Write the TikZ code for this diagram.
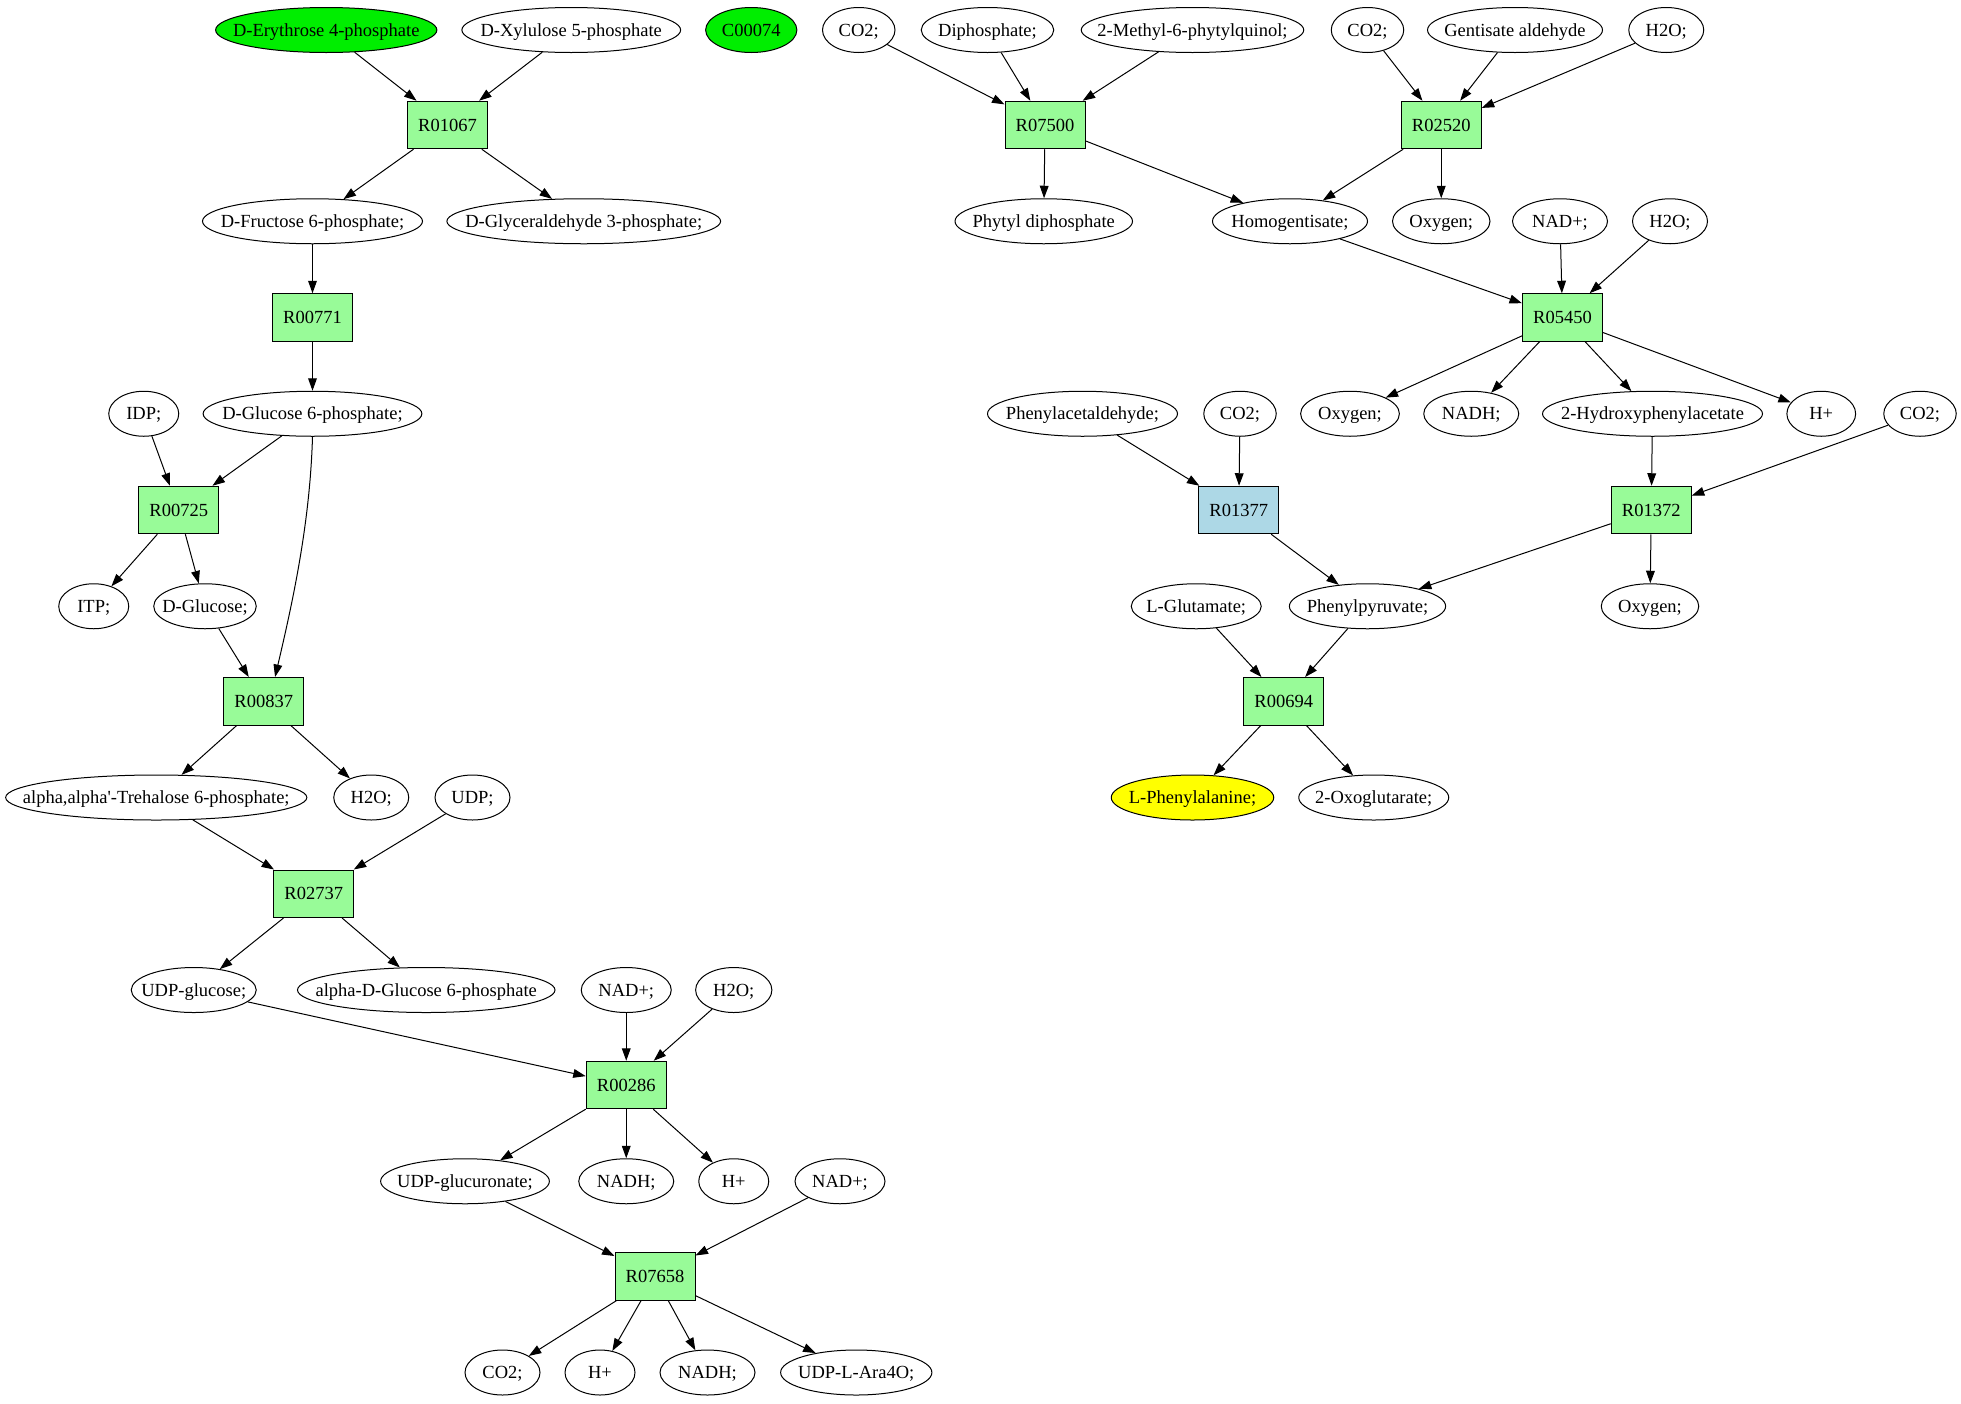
\documentclass[tikz,border=0pt]{standalone}
\usepackage{fontspec}
\setmainfont{Liberation Serif}
\usetikzlibrary{shapes.geometric,arrows.meta}
\definecolor{palegreenc}{HTML}{98FB98}
\definecolor{lightbluec}{HTML}{ADD8E6}
\definecolor{greenc}{HTML}{00EE00}
\definecolor{yellowc}{HTML}{FFFF00}
\newcommand{\mtxt}[1]{\makebox[0pt]{\raisebox{-4.8pt}[0pt][0pt]{#1}}}
\begin{document}
\begin{tikzpicture}[x=1pt,y=1pt,
  met/.style={ellipse, draw, line width=0.8pt, minimum height=36pt, inner sep=0pt, minimum width=#1},
  met/.default=60pt,
  rxn/.style={rectangle, draw, line width=0.8pt, fill=palegreenc, minimum width=64pt, minimum height=38pt, inner sep=0pt},
  arr/.style={-{Triangle[length=10pt,width=7pt]}, line width=0.8pt},
  every node/.style={font=\fontsize{14.8}{16}\selectfont}
]
\useasboundingbox (0,0) rectangle (1568.8,-1122.4);
% ---------- left part ----------
\node[met=177pt, fill=greenc] (ery) at (261,-24) {\mtxt{D-Erythrose 4-phosphate}};
\node[met=175pt] (xyl) at (457,-24) {\mtxt{D-Xylulose 5-phosphate}};
\node[met=73pt, fill=greenc] (c74) at (601,-24) {\mtxt{C00074}};
\node[rxn] (r01067) at (358,-100) {R01067};
\node[met=176pt] (fru) at (250,-177) {\mtxt{D-Fructose 6-phosphate;}};
\node[met=219pt] (gly) at (467,-177) {\mtxt{D-Glyceraldehyde 3-phosphate;}};
\node[rxn] (r00771) at (250,-254) {R00771};
\node[met=175pt] (g6p) at (250,-331) {\mtxt{D-Glucose 6-phosphate;}};
\node[met=56pt] (idp) at (115,-331) {\mtxt{IDP;}};
\node[rxn] (r00725) at (143,-408) {R00725};
\node[met=56pt] (itp) at (75,-485) {\mtxt{ITP;}};
\node[met=82pt] (glc) at (164,-485) {\mtxt{D-Glucose;}};
\node[rxn] (r00837) at (211,-561) {R00837};
\node[met=241pt] (tre) at (125,-638) {\mtxt{alpha,alpha\textquotesingle-Trehalose 6-phosphate;}};
\node[met=60pt] (h2oa) at (297,-638) {\mtxt{H2O;}};
\node[met=60pt] (udp) at (378,-638) {\mtxt{UDP;}};
\node[rxn] (r02737) at (251,-715) {R02737};
\node[met=100pt] (udpg) at (155,-792) {\mtxt{UDP-glucose;}};
\node[met=206pt] (ag6p) at (341,-792) {\mtxt{alpha-D-Glucose 6-phosphate}};
\node[met=72pt] (nada) at (501,-792) {\mtxt{NAD+;}};
\node[met=61pt] (h2ob) at (587,-792) {\mtxt{H2O;}};
\node[rxn] (r00286) at (501,-868) {R00286};
\node[met=135pt] (udpgn) at (372,-945) {\mtxt{UDP-glucuronate;}};
\node[met=76pt] (nadha) at (501,-945) {\mtxt{NADH;}};
\node[met=56pt] (ha) at (587,-945) {\mtxt{H+}};
\node[met=72pt] (nadb) at (672,-945) {\mtxt{NAD+;}};
\node[rxn] (r07658) at (524,-1021) {R07658};
\node[met=60pt] (co2a) at (402,-1098) {\mtxt{CO2;}};
\node[met=56pt] (hb) at (480,-1098) {\mtxt{H+}};
\node[met=76pt] (nadhb) at (566,-1098) {\mtxt{NADH;}};
\node[met=121pt] (ara) at (685,-1098) {\mtxt{UDP-L-Ara4O;}};
% ---------- right part ----------
\node[met=58pt] (co2b) at (687,-24) {\mtxt{CO2;}};
\node[met=106pt] (dip) at (790,-24) {\mtxt{Diphosphate;}};
\node[met=178pt] (mpq) at (954,-24) {\mtxt{2-Methyl-6-phytylquinol;}};
\node[met=58pt] (co2c) at (1094,-24) {\mtxt{CO2;}};
\node[met=140pt] (gen) at (1212,-24) {\mtxt{Gentisate aldehyde}};
\node[met=60pt] (h2oc) at (1333,-24) {\mtxt{H2O;}};
\node[rxn] (r07500) at (836,-100) {R07500};
\node[rxn] (r02520) at (1153,-100) {R02520};
\node[met=142pt] (phy) at (835,-177) {\mtxt{Phytyl diphosphate}};
\node[met=124pt] (hom) at (1032,-177) {\mtxt{Homogentisate;}};
\node[met=78pt] (oxya) at (1153,-177) {\mtxt{Oxygen;}};
\node[met=76pt] (nadc) at (1248,-177) {\mtxt{NAD+;}};
\node[met=60pt] (h2od) at (1336,-177) {\mtxt{H2O;}};
\node[rxn] (r05450) at (1250,-254) {R05450};
\node[met=152pt] (pacet) at (866,-331) {\mtxt{Phenylacetaldehyde;}};
\node[met=58pt] (co2d) at (992,-331) {\mtxt{CO2;}};
\node[met=79pt] (oxyb) at (1080,-331) {\mtxt{Oxygen;}};
\node[met=76pt] (nadhc) at (1177,-331) {\mtxt{NADH;}};
\node[met=176pt] (hpa) at (1322,-331) {\mtxt{2-Hydroxyphenylacetate}};
\node[met=55pt] (hc) at (1457,-331) {\mtxt{H+}};
\node[met=58pt] (co2e) at (1536,-331) {\mtxt{CO2;}};
\node[rxn, fill=lightbluec] (r01377) at (991,-408) {R01377};
\node[rxn] (r01372) at (1321,-408) {R01372};
\node[met=104pt] (glu) at (957,-485) {\mtxt{L-Glutamate;}};
\node[met=125pt] (ppy) at (1094,-485) {\mtxt{Phenylpyruvate;}};
\node[met=78pt] (oxyc) at (1320,-485) {\mtxt{Oxygen;}};
\node[rxn] (r00694) at (1027,-561) {R00694};
\node[met=130pt, fill=yellowc] (phe) at (954,-638) {\mtxt{L-Phenylalanine;}};
\node[met=120pt] (oxo) at (1099,-638) {\mtxt{2-Oxoglutarate;}};
% ---------- edges left ----------
\draw[arr] (ery) -- (r01067);
\draw[arr] (xyl) -- (r01067);
\draw[arr] (r01067) -- (fru);
\draw[arr] (r01067) -- (gly);
\draw[arr] (fru) -- (r00771);
\draw[arr] (r00771) -- (g6p);
\draw[arr] (idp) -- (r00725);
\draw[arr] (g6p) -- (r00725);
\draw[arr] (g6p.south) .. controls (248,-419) and (234,-482) .. (r00837.65);
\draw[arr] (r00725) -- (itp);
\draw[arr] (r00725) -- (glc);
\draw[arr] (glc) -- (r00837);
\draw[arr] (r00837) -- (tre);
\draw[arr] (r00837) -- (h2oa);
\draw[arr] (tre) -- (r02737);
\draw[arr] (udp) -- (r02737);
\draw[arr] (r02737) -- (udpg);
\draw[arr] (r02737) -- (ag6p);
\draw[arr] (udpg) -- (r00286);
\draw[arr] (nada) -- (r00286);
\draw[arr] (h2ob) -- (r00286);
\draw[arr] (r00286) -- (udpgn);
\draw[arr] (r00286) -- (nadha);
\draw[arr] (r00286) -- (ha);
\draw[arr] (udpgn) -- (r07658);
\draw[arr] (nadb) -- (r07658);
\draw[arr] (r07658) -- (co2a);
\draw[arr] (r07658) -- (hb);
\draw[arr] (r07658) -- (nadhb);
\draw[arr] (r07658) -- (ara);
% ---------- edges right ----------
\draw[arr] (co2b) -- (r07500);
\draw[arr] (dip) -- (r07500);
\draw[arr] (mpq) -- (r07500);
\draw[arr] (r07500) -- (phy);
\draw[arr] (r07500) -- (hom);
\draw[arr] (co2c) -- (r02520);
\draw[arr] (gen) -- (r02520);
\draw[arr] (h2oc) -- (r02520);
\draw[arr] (r02520) -- (hom);
\draw[arr] (r02520) -- (oxya);
\draw[arr] (hom) -- (r05450);
\draw[arr] (nadc) -- (r05450);
\draw[arr] (h2od) -- (r05450);
\draw[arr] (r05450) -- (oxyb);
\draw[arr] (r05450) -- (nadhc);
\draw[arr] (r05450) -- (hpa);
\draw[arr] (r05450) -- (hc);
\draw[arr] (pacet) -- (r01377);
\draw[arr] (co2d) -- (r01377);
\draw[arr] (hpa) -- (r01372);
\draw[arr] (co2e) -- (r01372);
\draw[arr] (r01377) -- (ppy);
\draw[arr] (r01372) -- (ppy);
\draw[arr] (r01372) -- (oxyc);
\draw[arr] (glu) -- (r00694);
\draw[arr] (ppy) -- (r00694);
\draw[arr] (r00694) -- (phe);
\draw[arr] (r00694) -- (oxo);
\end{tikzpicture}
\end{document}
